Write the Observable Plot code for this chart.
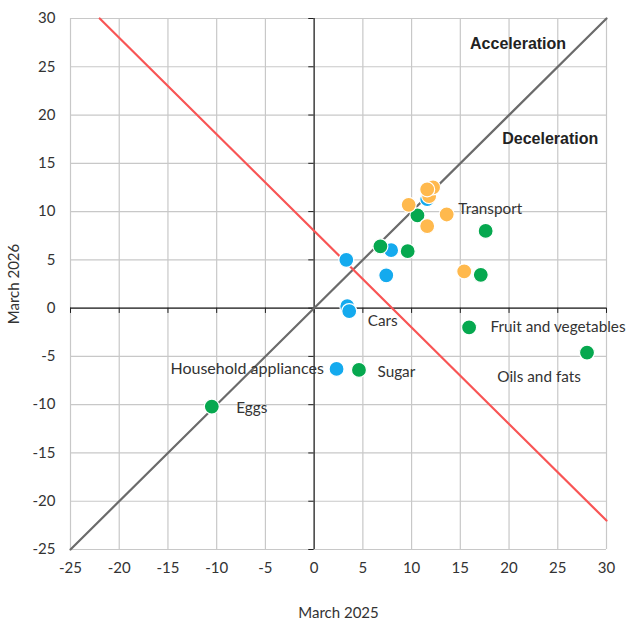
<!DOCTYPE html>
<html><head><meta charset="utf-8">
<script src="https://cdn.jsdelivr.net/npm/d3@7"></script>
<script src="https://cdn.jsdelivr.net/npm/@observablehq/plot@0.6"></script>
<style>
body{margin:0;background:#fff;}
#chart svg{font-family:"Lato","Open Sans",sans-serif;}
</style>
</head><body><div id="chart"></div>
<script>
const ticks = [-25,-20,-15,-10,-5,0,5,10,15,20,25,30];
const groups = ["Group A","Group B","Group C"];
const groupColors = ["#14aaee","#06a84f","#ffb94d"];
const aX = [11.6, 7.9, 3.3, 7.4, 3.4, 3.6, 2.3];
const aY = [11.3, 6.0, 5.0, 3.4, 0.2, -0.3, -6.3];
const bX = [10.6, 17.6, 6.8, 9.6, 17.1, 15.9, 28.0, 4.6, -10.5];
const bY = [9.6, 8.0, 6.4, 5.9, 3.45, -2.0, -4.6, -6.4, -10.2];
const cX = [9.7, 13.6, 11.6, 15.4, 11.8, 12.2, 11.6];
const cY = [10.7, 9.7, 8.5, 3.8, 11.6, 12.5, 12.3];
const labelText = ["Transport","Cars","Fruit and vegetables","Oils and fats","Sugar","Eggs"];
const labelX = [14.8, 5.5, 18.1, 18.8, 6.5, -8.0];
const labelY = [10.3, -1.3, -2.0, -7.1, -6.6, -10.4];
const rightLabelText = ["Household appliances"];
const rightLabelX = [1.0];
const rightLabelY = [-6.3];
const zoneText = ["Acceleration","Deceleration"];
const zoneX = [16.0, 19.3];
const zoneY = [27.4, 17.5];
const diagX = [-25, 30], diagY = [-25, 30];
const redX = [-22, 30], redY = [30, -22];

const pts = [];
aX.forEach((x,i)=>pts.push({x, y: aY[i], g: groups[0]}));
bX.forEach((x,i)=>pts.push({x, y: bY[i], g: groups[1]}));
cX.forEach((x,i)=>pts.push({x, y: cY[i], g: groups[2]}));
const lab = labelText.map((t,i)=>({t, x: labelX[i], y: labelY[i]}));
const rlab = rightLabelText.map((t,i)=>({t, x: rightLabelX[i], y: rightLabelY[i]}));
const zl = zoneText.map((t,i)=>({t, x: zoneX[i], y: zoneY[i]}));
const diag = diagX.map((x,i)=>({x, y: diagY[i]}));
const red = redX.map((x,i)=>({x, y: redY[i]}));

const plot = Plot.plot({
  width: 630, height: 622,
  marginLeft: 70, marginRight: 24, marginTop: 18, marginBottom: 73,
  x: {domain: [-25, 30], ticks: ticks, tickFormat: d=>String(d), tickSize: 0, tickPadding: 13, label: "March 2025", labelAnchor: "center", labelArrow: "none", labelOffset: 68},
  y: {domain: [-25, 30], ticks: ticks, tickFormat: d=>String(d), tickSize: 0, tickPadding: 15, label: "March 2026", labelAnchor: "center", labelArrow: "none", labelOffset: 62},
  color: {domain: groups, range: groupColors},
  style: {fontSize: "15px", color: "#333"},
  marks: [
    Plot.ruleX(ticks, {x: d=>d, stroke: "#c8c8c8", strokeWidth: 1.2}),
    Plot.ruleY(ticks, {y: d=>d, stroke: "#c8c8c8", strokeWidth: 1.2}),
    Plot.ruleX(ticks, {x: d=>d, y1: 0, y2: -0.55, stroke: "#222"}),
    Plot.ruleY(ticks, {y: d=>d, x1: 0, x2: -0.55, stroke: "#222"}),
    Plot.ruleX([0], {stroke: "#222", strokeWidth: 1.2}),
    Plot.ruleY([0], {stroke: "#222", strokeWidth: 1.2}),
    Plot.line(diag, {x:"x", y:"y", stroke: "#6b6b6b", strokeWidth: 2.2}),
    Plot.line(red, {x:"x", y:"y", stroke: "#f85555", strokeWidth: 2.2}),
    Plot.dot(pts, {x:"x", y:"y", fill:"g", r: 7.5, stroke: "white", strokeWidth: 1.2}),
    Plot.text(lab, {x:"x", y:"y", text:"t", textAnchor:"start", fill:"#333", fontSize: 15.3}),
    Plot.text(rlab, {x:"x", y:"y", text:"t", textAnchor:"end", fill:"#333", fontSize: 16}),
    Plot.text(zl, {x:"x", y:"y", text:"t", textAnchor:"start", fill:"#222", fontSize: 16, fontWeight: "bold", fontFamily: "Liberation Sans, Arial, sans-serif"})
  ]
});
document.getElementById("chart").appendChild(plot);
</script>
</body></html>
